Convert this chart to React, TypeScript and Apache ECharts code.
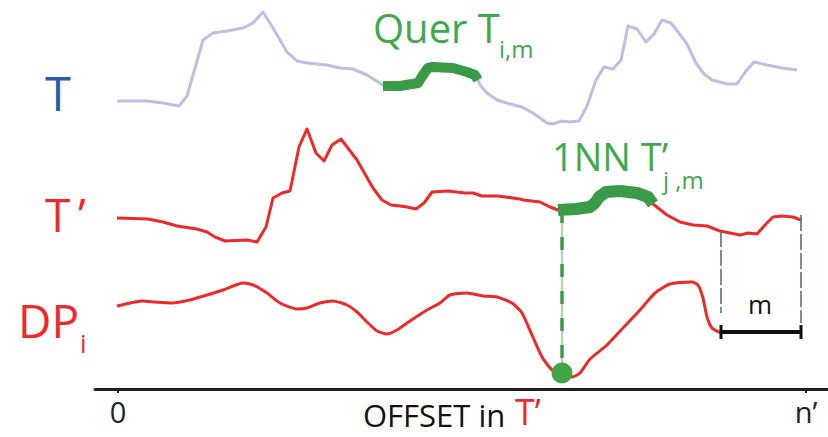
import React, { useEffect, useRef } from "react";
import * as echarts from "echarts";

// Offsets along T' (0 .. n'), levels are arbitrary stacked display units
const N_PRIME = 688;
const xTickValues = [0, N_PRIME];
const xTickLabels = ["0", "n’"];

const seriesT: [number, number][] = [
  [-1, 288], [29, 288], [45, 286], [61, 283], [69, 293], [85, 349], [95, 356], [109, 358],
  [125, 361], [135, 366], [145, 377], [155, 361], [169, 337], [179, 328], [189, 326],
  [209, 324], [222, 321], [235, 320], [249, 314], [265, 304], [282, 303], [300, 306],
  [305, 314], [310, 321], [315, 322], [335, 321], [349, 317], [357, 314], [360, 309],
  [362, 304], [369, 296], [379, 289], [392, 285], [404, 282], [415, 276], [429, 266],
  [435, 265], [444, 268], [452, 267], [461, 268], [469, 283], [478, 309], [486, 322],
  [495, 320], [503, 329], [510, 363], [519, 360], [528, 347], [536, 355], [544, 369],
  [553, 366], [560, 357], [569, 345], [578, 326], [586, 315], [594, 309], [610, 305],
  [619, 305], [628, 318], [636, 327], [649, 324], [664, 321], [679, 319],
];

const queryT: [number, number][] = [
  [265, 303], [282, 303], [300, 306], [305, 314], [310, 321], [315, 322], [335, 321],
  [349, 317], [357, 314], [360, 309],
];

const seriesTPrime: [number, number][] = [
  [-1, 171], [30, 170], [45, 167], [59, 163], [79, 160], [89, 157], [97, 152], [107, 148],
  [129, 149], [139, 147], [148, 162], [155, 191], [164, 196], [172, 198], [181, 242],
  [189, 260], [198, 236], [206, 228], [214, 244], [223, 250], [239, 229], [255, 201],
  [264, 189], [273, 184], [282, 183], [289, 182], [298, 180], [306, 186], [314, 197],
  [330, 198], [347, 196], [355, 196], [364, 193], [380, 193], [402, 190], [405, 189],
  [422, 187], [432, 182], [440, 179], [458, 180], [472, 182], [477, 186], [481, 192],
  [488, 197], [502, 198], [519, 196], [530, 192], [535, 185], [549, 174], [562, 167],
  [575, 164], [589, 163], [602, 158], [612, 156], [622, 154], [630, 156], [639, 155],
  [647, 164], [655, 172], [664, 173], [675, 172], [683, 169],
];

const nnTPrime: [number, number][] = [
  [440, 179], [458, 180], [472, 182], [477, 186], [481, 192], [488, 197], [502, 198],
  [519, 196], [530, 192], [535, 185],
];

const profileDP: [number, number][] = [
  [-1, 83], [12, 86], [24, 88], [37, 87], [54, 86], [72, 89], [89, 94], [105, 99],
  [125, 106], [135, 104], [149, 96], [162, 86], [179, 80], [189, 81], [202, 86],
  [215, 88], [229, 84], [239, 77], [249, 67], [259, 58], [269, 55], [279, 59], [292, 68],
  [309, 79], [322, 86], [332, 94], [349, 96], [365, 93], [379, 92], [394, 86], [404, 76],
  [414, 54], [424, 32], [434, 19], [443, 15], [454, 12], [462, 16], [472, 30], [489, 44],
  [505, 61], [522, 79], [537, 96], [552, 105], [574, 107], [580, 104], [585, 91],
  [589, 72], [594, 61], [603, 56],
];

const matchPoint: [number, number][] = [[444, 16]];
const matchLink: [number, number][] = [[444, 179], [444, 16]];

const windowLeftEdge: [number, number][] = [[603, 158], [603, 76]];
const windowRightEdge: [number, number][] = [[683, 174], [683, 66]];
const windowBar: [number, number][] = [[603, 57], [683, 57]];
const windowCapLeft: [number, number][] = [[603, 64], [603, 50]];
const windowCapRight: [number, number][] = [[683, 64], [683, 50]];

const FONT = "Open Sans";
const RED = "#ec2a2a";
const GREEN_DARK = "#3a9a48";
const GREEN_TEXT = "#3fa94b";
const LAVENDER = "#bbbfe2";
const INK = "#231f20";

function lineSeries(data: [number, number][], color: string, width: number, extra: any = {}) {
  return {
    type: "line",
    data,
    symbol: "none",
    silent: true,
    lineStyle: { color, width, cap: "butt", join: "round", ...(extra.lineStyle || {}) },
    smooth: extra.smooth || false,
    z: extra.z || 2,
  };
}

export default function App() {
  const ref = useRef<HTMLDivElement>(null);

  useEffect(() => {
    if (!ref.current) return;
    const chart = echarts.init(ref.current, undefined, { renderer: "svg" });
    const txt = (
      text: string,
      x: number,
      y: number,
      size: number,
      color: string,
      align = "left",
      lineHeight?: number
    ) => ({
      type: "text",
      x,
      y,
      style: {
        text,
        fontSize: size,
        fontFamily: FONT,
        fill: color,
        align,
        verticalAlign: "middle",
        lineHeight: lineHeight ?? Math.round(size * 1.15),
      },
    });
    chart.setOption({
      animation: false,
      grid: { left: 95, right: 0, top: 0, bottom: 48 },
      xAxis: {
        type: "value",
        min: -23,
        max: 710,
        splitLine: { show: false },
        axisLine: { lineStyle: { color: INK, width: 3 } },
        axisTick: { show: true, customValues: xTickValues, length: 4, lineStyle: { color: INK, width: 2 } },
        axisLabel: {
          customValues: xTickValues,
          formatter: (v: number) => xTickLabels[xTickValues.indexOf(v)] ?? "",
          fontSize: 29,
          fontFamily: FONT,
          color: INK,
          margin: 8,
        },
      },
      yAxis: { type: "value", min: 0, max: 389, show: false },
      series: [
        lineSeries(seriesT, LAVENDER, 3),
        lineSeries(queryT, GREEN_DARK, 10, { z: 3 }),
        lineSeries(seriesTPrime, RED, 3),
        lineSeries(nnTPrime, GREEN_DARK, 12, { z: 3 }),
        lineSeries(profileDP, RED, 3, { smooth: 0.2 }),
        lineSeries(matchLink, "#5aaa63", 1, { z: 3 }),
        lineSeries(matchLink, GREEN_DARK, 3.5, { z: 3, lineStyle: { type: [13, 14] } }),
        {
          type: "scatter",
          data: matchPoint,
          symbolSize: 21,
          itemStyle: { color: "#41a447", opacity: 1 },
          silent: true,
          z: 4,
        },
        lineSeries(windowLeftEdge, "#4f6a59", 1.5, { lineStyle: { type: [16, 3] } }),
        lineSeries(windowRightEdge, "#4f6a59", 1.5, { lineStyle: { type: [16, 3] } }),
        lineSeries(windowBar, "#111111", 4, { z: 4 }),
        lineSeries(windowCapLeft, "#111111", 3, { z: 4 }),
        lineSeries(windowCapRight, "#111111", 3, { z: 4 }),
      ],
      graphic: [
        txt("T", 45, 93, 47, "#2a5cab"),
        txt("T\u2009’", 45, 214, 46, RED),
        txt("DP", 18, 320, 46, RED),
        txt("i", 80, 343, 26, RED),
        txt("Quer T", 373, 27, 40, GREEN_TEXT),
        txt("i,m", 499, 48, 24, GREEN_TEXT, "left", 20),
        txt("1NN T’", 552, 156, 38, GREEN_TEXT),
        txt("j ,m", 663, 179, 24, GREEN_TEXT),
        txt("m", 760, 304, 26, "#111111", "center"),
        txt("OFFSET in", 363, 415, 31, "#111111", "left", 30),
        txt("T’", 515, 411, 36, RED, "left", 32),
      ],
    });
    return () => chart.dispose();
  }, []);

  return (
    <div
      ref={ref}
      style={{ position: "fixed", left: 0, top: 0, width: 828, height: 437, background: "#fff" }}
    />
  );
}
